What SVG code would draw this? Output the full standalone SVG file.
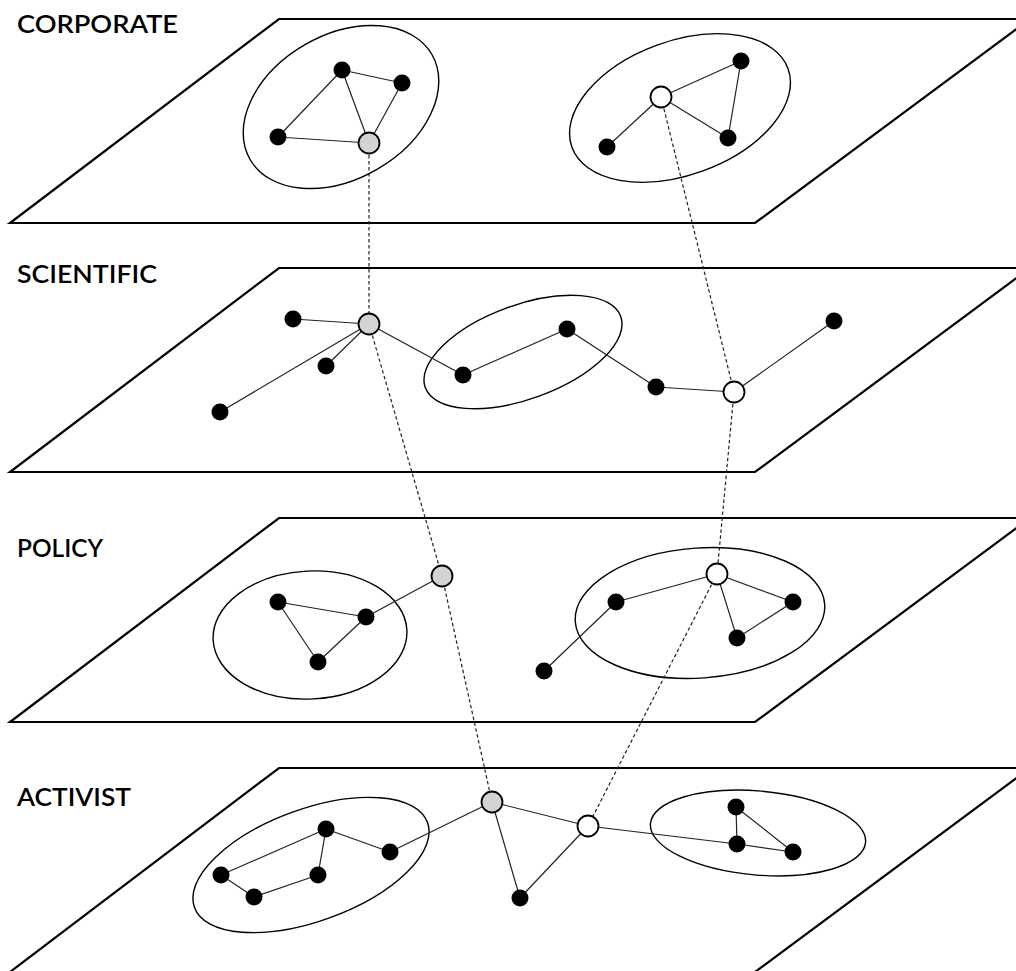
<svg xmlns="http://www.w3.org/2000/svg" width="1016" height="971" viewBox="0 0 1016 971">
<style>
.plane{fill:#fff;stroke:#000;stroke-width:2.2;stroke-linejoin:miter}
.grp{fill:none;stroke:#000;stroke-width:1.4}
.e{stroke:#222;stroke-width:1.2;fill:none}
.d{stroke:#222;stroke-width:1.2;stroke-dasharray:3.5 2.5;fill:none}
.b{fill:#000}
.g{fill:#d3d3d3;stroke:#000;stroke-width:1.8}
.w{fill:#fff;stroke:#000;stroke-width:1.8}
.lbl{font-family:Lato,"Open Sans",sans-serif;font-size:25px;fill:#000;font-weight:600}
</style>
<g id="layer-corporate">
<polygon class="plane" points="279,19 1030,19 755,223 10,223"/>
<text class="lbl" x="17" y="33" textLength="161" lengthAdjust="spacingAndGlyphs">CORPORATE</text>
<ellipse class="grp" cx="341" cy="107" rx="105" ry="72" transform="rotate(-30 341 107)"/>
<ellipse class="grp" cx="680" cy="108" rx="115" ry="67" transform="rotate(-20 680 108)"/>
</g>
<g id="layer-scientific">
<polygon class="plane" points="279,268 1030,268 755,472 10,472"/>
<text class="lbl" x="17" y="283" textLength="140" lengthAdjust="spacingAndGlyphs">SCIENTIFIC</text>
<ellipse class="grp" cx="523" cy="352" rx="104" ry="47" transform="rotate(-20 523 352)"/>
</g>
<g id="layer-policy">
<polygon class="plane" points="279,518 1030,518 755,722 10,722"/>
<text class="lbl" x="17" y="557" textLength="86" lengthAdjust="spacingAndGlyphs">POLICY</text>
<ellipse class="grp" cx="310" cy="635" rx="97" ry="64" transform="rotate(-3 310 635)"/>
<ellipse class="grp" cx="700" cy="613" rx="125" ry="65" transform="rotate(-4 700 613)"/>
</g>
<g id="layer-activist">
<polygon class="plane" points="279,768 1030,768 755,972 10,972"/>
<text class="lbl" x="17" y="806" textLength="114" lengthAdjust="spacingAndGlyphs">ACTIVIST</text>
<ellipse class="grp" cx="311" cy="865" rx="124" ry="56" transform="rotate(-20 311 865)"/>
<ellipse class="grp" cx="758" cy="833" rx="108" ry="42" transform="rotate(5 758 833)"/>
</g>
<g id="connectors">
<line class="e" x1="342" y1="70" x2="402" y2="83"/>
<line class="e" x1="342" y1="70" x2="278" y2="137"/>
<line class="e" x1="342" y1="70" x2="369" y2="143"/>
<line class="e" x1="402" y1="83" x2="369" y2="143"/>
<line class="e" x1="278" y1="137" x2="369" y2="143"/>
<line class="e" x1="661" y1="97" x2="741" y2="61"/>
<line class="e" x1="661" y1="97" x2="728" y2="138"/>
<line class="e" x1="741" y1="61" x2="728" y2="138"/>
<line class="e" x1="661" y1="97" x2="607" y2="147"/>
<line class="e" x1="293" y1="319" x2="369" y2="324"/>
<line class="e" x1="326" y1="366" x2="369" y2="324"/>
<line class="e" x1="220" y1="412" x2="369" y2="324"/>
<line class="e" x1="369" y1="324" x2="463" y2="375"/>
<line class="e" x1="463" y1="375" x2="567" y2="329"/>
<line class="e" x1="567" y1="329" x2="656" y2="387"/>
<line class="e" x1="656" y1="387" x2="734" y2="392"/>
<line class="e" x1="734" y1="392" x2="834" y2="321"/>
<line class="e" x1="278" y1="602" x2="366" y2="617"/>
<line class="e" x1="278" y1="602" x2="318" y2="662"/>
<line class="e" x1="318" y1="662" x2="366" y2="617"/>
<line class="e" x1="366" y1="617" x2="442" y2="576"/>
<line class="e" x1="717" y1="574" x2="616" y2="602"/>
<line class="e" x1="717" y1="574" x2="793" y2="602"/>
<line class="e" x1="717" y1="574" x2="737" y2="638"/>
<line class="e" x1="737" y1="638" x2="793" y2="602"/>
<line class="e" x1="616" y1="602" x2="544" y2="671"/>
<line class="e" x1="221" y1="875" x2="326" y2="829"/>
<line class="e" x1="326" y1="829" x2="390" y2="852"/>
<line class="e" x1="326" y1="829" x2="318" y2="875"/>
<line class="e" x1="318" y1="875" x2="254" y2="897"/>
<line class="e" x1="254" y1="897" x2="221" y2="875"/>
<line class="e" x1="390" y1="852" x2="492" y2="802"/>
<line class="e" x1="492" y1="802" x2="520" y2="898"/>
<line class="e" x1="492" y1="802" x2="588" y2="826"/>
<line class="e" x1="588" y1="826" x2="520" y2="898"/>
<line class="e" x1="588" y1="826" x2="737" y2="844"/>
<line class="e" x1="736" y1="807" x2="737" y2="844"/>
<line class="e" x1="736" y1="807" x2="793" y2="852"/>
<line class="e" x1="737" y1="844" x2="793" y2="852"/>
<line class="d" x1="369" y1="143" x2="369" y2="324"/>
<line class="d" x1="661" y1="97" x2="734" y2="392"/>
<line class="d" x1="369" y1="324" x2="442" y2="576"/>
<line class="d" x1="734" y1="392" x2="717" y2="574"/>
<line class="d" x1="442" y1="576" x2="492" y2="802"/>
<line class="d" x1="717" y1="574" x2="588" y2="826"/>
</g>
<g id="nodes-corporate">
<circle class="b" cx="342" cy="70" r="8.5"/>
<circle class="b" cx="402" cy="83" r="8.5"/>
<circle class="b" cx="278" cy="137" r="8.5"/>
<circle class="g" cx="369" cy="143" r="10.5"/>
<circle class="w" cx="661" cy="97" r="10.5"/>
<circle class="b" cx="741" cy="61" r="8.5"/>
<circle class="b" cx="728" cy="138" r="8.5"/>
<circle class="b" cx="607" cy="147" r="8.5"/>
</g>
<g id="nodes-scientific">
<circle class="g" cx="369" cy="324" r="10.5"/>
<circle class="b" cx="293" cy="319" r="8.5"/>
<circle class="b" cx="326" cy="366" r="8.5"/>
<circle class="b" cx="220" cy="412" r="8.5"/>
<circle class="b" cx="463" cy="375" r="8.5"/>
<circle class="b" cx="567" cy="329" r="8.5"/>
<circle class="b" cx="656" cy="387" r="8.5"/>
<circle class="w" cx="734" cy="392" r="10.5"/>
<circle class="b" cx="834" cy="321" r="8.5"/>
</g>
<g id="nodes-policy">
<circle class="g" cx="442" cy="576" r="10.5"/>
<circle class="b" cx="278" cy="602" r="8.5"/>
<circle class="b" cx="366" cy="617" r="8.5"/>
<circle class="b" cx="318" cy="662" r="8.5"/>
<circle class="w" cx="717" cy="574" r="10.5"/>
<circle class="b" cx="616" cy="602" r="8.5"/>
<circle class="b" cx="793" cy="602" r="8.5"/>
<circle class="b" cx="737" cy="638" r="8.5"/>
<circle class="b" cx="544" cy="671" r="8.5"/>
</g>
<g id="nodes-activist">
<circle class="g" cx="492" cy="802" r="10.5"/>
<circle class="b" cx="326" cy="829" r="8.5"/>
<circle class="b" cx="390" cy="852" r="8.5"/>
<circle class="b" cx="221" cy="875" r="8.5"/>
<circle class="b" cx="318" cy="875" r="8.5"/>
<circle class="b" cx="254" cy="897" r="8.5"/>
<circle class="b" cx="520" cy="898" r="8.5"/>
<circle class="w" cx="588" cy="826" r="10.5"/>
<circle class="b" cx="736" cy="807" r="8.5"/>
<circle class="b" cx="737" cy="844" r="8.5"/>
<circle class="b" cx="793" cy="852" r="8.5"/>
</g>
</svg>
